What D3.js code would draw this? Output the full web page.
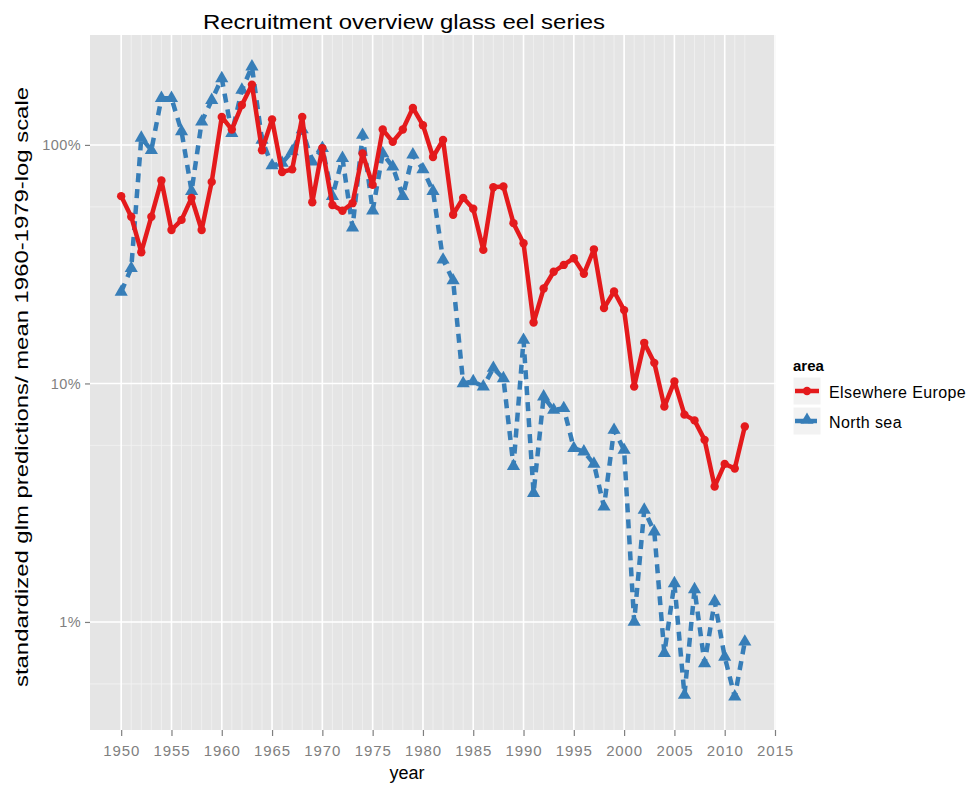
<!DOCTYPE html>
<html>
<head>
<meta charset="utf-8">
<script src="https://cdnjs.cloudflare.com/ajax/libs/d3/7.8.5/d3.min.js"></script>
<style>
  html, body { margin: 0; padding: 0; background: #ffffff; }
  svg { display: block; font-family: "Liberation Sans", Arial, sans-serif; }
</style>
</head>
<body>
<svg id="chart" width="977" height="787"></svg>
<script>
// ---- data ----
const years = [1950,1951,1952,1953,1954,1955,1956,1957,1958,1959,
               1960,1961,1962,1963,1964,1965,1966,1967,1968,1969,
               1970,1971,1972,1973,1974,1975,1976,1977,1978,1979,
               1980,1981,1982,1983,1984,1985,1986,1987,1988,1989,
               1990,1991,1992,1993,1994,1995,1996,1997,1998,1999,
               2000,2001,2002,2003,2004,2005,2006,2007,2008,2009,
               2010,2011,2012];
const elsewhereEurope = [0.61,0.50,0.355,0.50,0.71,0.44,0.485,0.60,0.44,0.70,
                         1.31,1.16,1.47,1.79,0.95,1.28,0.77,0.79,1.31,0.575,
                         0.97,0.56,0.53,0.57,0.92,0.68,1.16,1.03,1.16,1.43,
                         1.21,0.89,1.05,0.51,0.60,0.54,0.363,0.665,0.67,0.47,
                         0.387,0.18,0.25,0.294,0.314,0.335,0.288,0.365,0.207,0.243,
                         0.203,0.097,0.148,0.122,0.080,0.102,0.074,0.070,0.058,0.037,
                         0.046,0.044,0.066];
const northSea = [0.242,0.304,1.07,0.95,1.57,1.57,1.14,0.64,1.25,1.54,
                  1.90,1.12,1.70,2.13,1.05,0.82,0.84,0.94,1.16,0.85,
                  0.97,0.61,0.88,0.45,1.10,0.53,0.92,0.81,0.61,0.91,
                  0.79,0.64,0.33,0.27,0.10,0.102,0.097,0.116,0.105,0.045,
                  0.152,0.0347,0.088,0.0774,0.0787,0.0535,0.0518,0.046,0.0304,0.0638,
                  0.0526,0.010,0.0295,0.0239,0.0074,0.0145,0.00494,0.0137,0.0067,0.0122,
                  0.00714,0.00486,0.00826];
const seriesNames = ["Elsewhere Europe", "North sea"];
const xTicks = [1950,1955,1960,1965,1970,1975,1980,1985,1990,1995,2000,2005,2010,2015];
const yTicks = [0.01, 0.1, 1];
const yTickLabels = ["1%", "10%", "100%"];
const yMinor = [0.0055, 0.055, 0.55];
const titleText = "Recruitment overview glass eel series";
const xTitle = "year";
const yTitle = "standardized glm predictions/ mean 1960-1979-log scale";
const legendTitle = "area";

// ---- layout ----
const svg = d3.select("#chart");
const panel = {left: 90, right: 776, top: 35, bottom: 730};
const colors = {"Elsewhere Europe": "#E41A1C", "North sea": "#377EB8"};

const x = d3.scaleLinear().domain([1946.9, 2015.1]).range([panel.left, panel.right]);
const y = d3.scaleLog().domain([0.003524, 2.89]).range([panel.bottom, panel.top]);

// panel background
svg.append("rect")
  .attr("x", panel.left).attr("y", panel.top)
  .attr("width", panel.right - panel.left).attr("height", panel.bottom - panel.top)
  .attr("fill", "#e5e5e5");

const grid = svg.append("g");
// minor grid
grid.selectAll("line.vminor").data(years).enter().append("line")
  .attr("x1", d => x(d)).attr("x2", d => x(d))
  .attr("y1", panel.top).attr("y2", panel.bottom)
  .attr("stroke", "#f2f2f2").attr("stroke-width", 0.8);
grid.selectAll("line.hminor").data(yMinor).enter().append("line")
  .attr("x1", panel.left).attr("x2", panel.right)
  .attr("y1", d => y(d)).attr("y2", d => y(d))
  .attr("stroke", "#f2f2f2").attr("stroke-width", 0.8);
// major grid
grid.selectAll("line.vmajor").data(xTicks).enter().append("line")
  .attr("x1", d => x(d)).attr("x2", d => x(d))
  .attr("y1", panel.top).attr("y2", panel.bottom)
  .attr("stroke", "#ffffff").attr("stroke-width", 1.6);
grid.selectAll("line.hmajor").data(yTicks).enter().append("line")
  .attr("x1", panel.left).attr("x2", panel.right)
  .attr("y1", d => y(d)).attr("y2", d => y(d))
  .attr("stroke", "#ffffff").attr("stroke-width", 1.6);

// axes
const xAxis = d3.axisBottom(x).tickValues(xTicks).tickFormat(d3.format("d")).tickSize(6).tickPadding(9);
const gx = svg.append("g").attr("transform", `translate(0,${panel.bottom})`).call(xAxis);
gx.select(".domain").remove();
gx.selectAll(".tick line").attr("stroke", "#7f7f7f").attr("stroke-width", 1.2);
gx.selectAll(".tick text").attr("fill", "#7f7f7f").attr("font-size", 15)
  .attr("letter-spacing", 0.9)
  .attr("font-family", "Liberation Sans, Arial, sans-serif");

const yAxis = d3.axisLeft(y).tickValues(yTicks)
  .tickFormat(d => yTickLabels[yTicks.indexOf(d)]).tickSize(5).tickPadding(4);
const gy = svg.append("g").attr("transform", `translate(${panel.left},0)`).call(yAxis);
gy.select(".domain").remove();
gy.selectAll(".tick line").attr("stroke", "#7f7f7f").attr("stroke-width", 1.2);
gy.selectAll(".tick text").attr("fill", "#7f7f7f").attr("font-size", 14.5)
  .attr("letter-spacing", 0.4)
  .attr("font-family", "Liberation Sans, Arial, sans-serif");

// series
const seriesData = [
  {name: seriesNames[0], values: years.map((yr, i) => ({year: yr, v: elsewhereEurope[i]}))},
  {name: seriesNames[1], values: years.map((yr, i) => ({year: yr, v: northSea[i]}))}
];
const line = d3.line().x(d => x(d.year)).y(d => y(d.v));
const tri = d3.symbol().type(d3.symbolTriangle).size(75);

// North sea first (drawn below red)
const ns = seriesData[1];
svg.append("path").datum(ns.values).attr("d", line)
  .attr("fill", "none").attr("stroke", colors[ns.name]).attr("stroke-width", 4.5)
  .attr("stroke-dasharray", "9,7").attr("stroke-linejoin", "round");
svg.append("g").selectAll("path").data(ns.values).enter().append("path")
  .attr("d", tri).attr("transform", d => `translate(${x(d.year)},${y(d.v)})`)
  .attr("fill", colors[ns.name]);

const ee = seriesData[0];
svg.append("path").datum(ee.values).attr("d", line)
  .attr("fill", "none").attr("stroke", colors[ee.name]).attr("stroke-width", 4.5)
  .attr("stroke-linejoin", "round");
svg.append("g").selectAll("circle").data(ee.values).enter().append("circle")
  .attr("cx", d => x(d.year)).attr("cy", d => y(d.v)).attr("r", 4.2)
  .attr("fill", colors[ee.name]);

// titles
svg.append("text").attr("x", 404).attr("y", 29).attr("text-anchor", "middle")
  .attr("font-size", 21).attr("fill", "#000")
  .attr("textLength", 402).attr("lengthAdjust", "spacingAndGlyphs").text(titleText);
svg.append("text").attr("x", 407).attr("y", 779).attr("text-anchor", "middle")
  .attr("font-size", 18).attr("fill", "#000").text(xTitle);
svg.append("text").attr("transform", `translate(28,387) rotate(-90)`)
  .attr("text-anchor", "middle").attr("font-size", 18).attr("fill", "#000")
  .attr("textLength", 600).attr("lengthAdjust", "spacingAndGlyphs").text(yTitle);

// legend
const lg = svg.append("g");
lg.append("text").attr("x", 793).attr("y", 371).attr("font-size", 15).attr("font-weight", "bold")
  .attr("fill", "#000").text(legendTitle);
seriesNames.forEach((name, i) => {
  const ky = 377 + i * 30;
  lg.append("rect").attr("x", 793).attr("y", ky).attr("width", 28).attr("height", 28)
    .attr("fill", "#f2f2f2").attr("stroke", "#ffffff").attr("stroke-width", 1);
  lg.append("line").attr("x1", 795).attr("x2", 819).attr("y1", ky + 14).attr("y2", ky + 14)
    .attr("stroke", colors[name]).attr("stroke-width", 4.5)
    .attr("stroke-dasharray", i === 1 ? "9,4" : null);
  if (i === 0) {
    lg.append("circle").attr("cx", 807).attr("cy", ky + 14).attr("r", 4.2).attr("fill", colors[name]);
  } else {
    lg.append("path").attr("d", tri).attr("transform", `translate(807,${ky + 13})`).attr("fill", colors[name]);
  }
  lg.append("text").attr("x", 829).attr("y", ky + 21).attr("font-size", 16).attr("fill", "#000")
    .attr("letter-spacing", 0.4).text(name);
});
</script>
</body>
</html>
